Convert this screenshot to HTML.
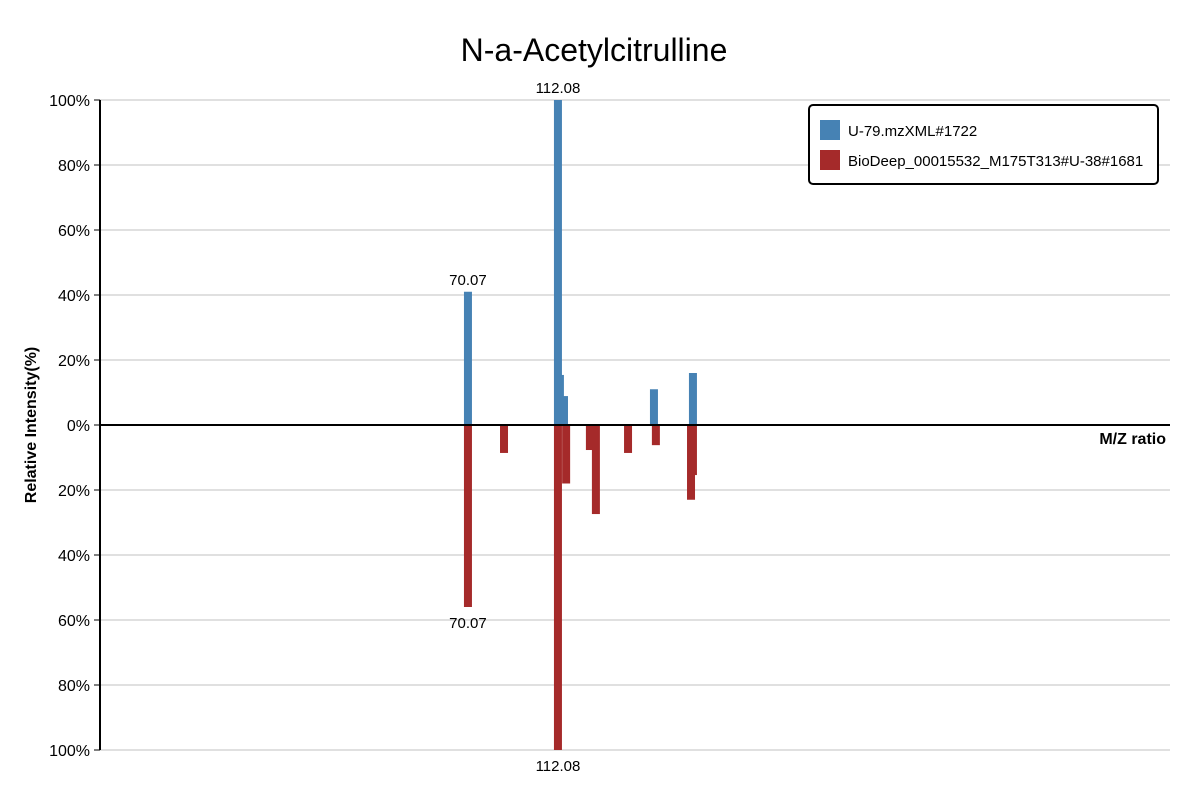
<!DOCTYPE html>
<html><head><meta charset="utf-8"><style>
body{margin:0;background:#fff;font-family:"Liberation Sans","DejaVu Sans",sans-serif}
</style></head><body>
<svg id="chart" width="1200" height="800" xmlns="http://www.w3.org/2000/svg" font-family="Liberation Sans, DejaVu Sans, sans-serif">
<text x="594" y="61" text-anchor="middle" font-size="32" fill="#000">N-a-Acetylcitrulline</text>
<g id="grid"></g><g id="bars"></g><g id="axes"></g>
<g>
<rect x="809" y="105" width="349" height="79" rx="4" fill="#fff" stroke="#000" stroke-width="2"/>
<rect x="820" y="120" width="20" height="20" fill="#4682b4"/>
<text x="848" y="136" font-size="15">U-79.mzXML#1722</text>
<rect x="820" y="150" width="20" height="20" fill="#a52a2a"/>
<text x="848" y="166" font-size="15">BioDeep_00015532_M175T313#U-38#1681</text>
</g>
<text transform="translate(36,425) rotate(-90)" text-anchor="middle" font-size="16" font-weight="bold">Relative Intensity(%)</text>
<text x="1166" y="444" text-anchor="end" font-size="16" font-weight="bold">M/Z ratio</text>
</svg>
<script>
const blueMz=[70.07,112.08,113.0,114.9,156.9,175.1];
const blueVal=[41,100,15.4,8.9,11,16];
const redMz=[70.07,86.9,112.08,115.9,127.0,129.8,144.8,157.8,174.2,175.1];
const redVal=[56,8.6,100,18,7.7,27.4,8.6,6.2,23,15.4];
const labeledMz=[70.07,112.08];
const yTicks=[100,80,60,40,20,0,-20,-40,-60,-80,-100];

const NS="http://www.w3.org/2000/svg";
const X0=100,X1=1170,Y0=425,K=3.25;
const mzMin=-101.7,mzMax=397.8;
function xs(m){return X0+(m-mzMin)/(mzMax-mzMin)*(X1-X0);}
function ys(v){return Y0-v*K;}
function mk(t,a,p){const e=document.createElementNS(NS,t);for(const k in a)e.setAttribute(k,a[k]);p.appendChild(e);return e;}
const grid=document.getElementById('grid'),bars=document.getElementById('bars'),axes=document.getElementById('axes');
yTicks.forEach(v=>{
  if(v!==0){const l=mk('line',{x1:X0,x2:X1,y1:ys(v),y2:ys(v),stroke:'#e0e0e0','stroke-width':2},grid);
  
  }
  mk('line',{x1:X0-6,x2:X0,y1:ys(v),y2:ys(v),stroke:'#000','stroke-width':1},axes);
  const t=mk('text',{x:X0-10,y:ys(v)+6,'text-anchor':'end','font-size':16},axes);
  t.textContent=Math.abs(v)+'%';
  
  
});
function drawBars(mz,val,sign,color,name){
  mz.forEach((m,i)=>{
    const h=val[i]*K,x=xs(m)-4;
    const r=mk('rect',{x:x,y:sign>0?Y0-h:Y0,width:8,height:h,fill:color},bars);
    
    
    if(labeledMz.includes(m)){
      const t=mk('text',{x:xs(m),y:sign>0?Y0-h-7:Y0+h+21,'text-anchor':'middle','font-size':15},bars);
      t.textContent=m.toFixed(2);
      
      
    }
  });
}
drawBars(blueMz,blueVal,1,'#4682b4','query-peak-bar');
drawBars(redMz,redVal,-1,'#a52a2a','reference-peak-bar');
const ya=mk('line',{x1:X0,x2:X0,y1:ys(100),y2:ys(-100),stroke:'#000','stroke-width':2},axes);


const xa=mk('line',{x1:X0,x2:X1,y1:Y0,y2:Y0,stroke:'#000','stroke-width':2},axes);


</script>
</body></html>
